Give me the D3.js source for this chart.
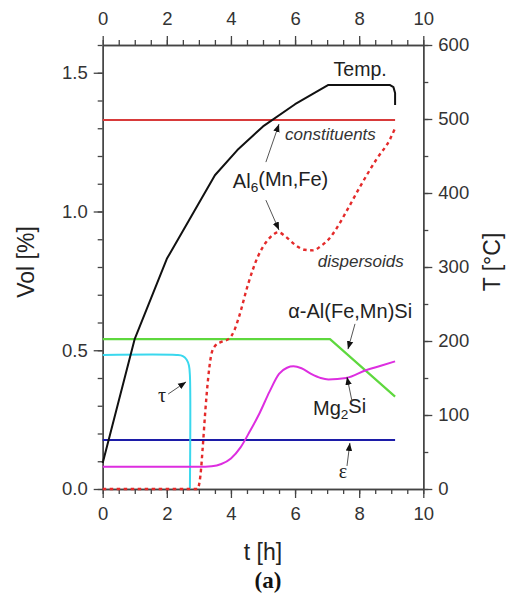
<!DOCTYPE html>
<html><head><meta charset="utf-8">
<script src="https://cdn.jsdelivr.net/npm/d3@7"></script>
<style>body{margin:0;background:#fff}svg{display:block}</style>
</head><body>
<svg id="c" width="510" height="602"></svg>
<script>
// ---- data ----
const timeTicks = [0, 2, 4, 6, 8, 10];
const volTicks = [0.0, 0.5, 1.0, 1.5];
const tempTicks = [0, 100, 200, 300, 400, 500, 600];

// temperature [°C] vs time [h]
const tempT = [0, 1.0, 2.0, 3.5, 4.2, 5.0, 6.0, 7.04, 8.95, 9.07, 9.12, 9.12];
const tempV = [35, 203, 311, 424, 458, 490, 520, 546, 546, 543, 535, 519];

// Al6(Mn,Fe) constituents
const constT = [0, 9.12];
const constV = [1.33, 1.33];

// Al6(Mn,Fe) dispersoids
const dispT = [0, 2.95, 3.05, 3.12, 3.2, 3.29, 3.38, 3.5, 3.7, 3.92, 4.1, 4.25, 4.54, 4.85, 5.1, 5.3, 5.48, 5.7, 6.0, 6.3, 6.57, 6.8, 7.05, 7.3, 7.6, 8.03, 8.55, 8.96, 9.12];
const dispV = [0, 0, 0.05, 0.15, 0.28, 0.40, 0.48, 0.515, 0.53, 0.54, 0.57, 0.62, 0.74, 0.84, 0.89, 0.915, 0.925, 0.91, 0.88, 0.862, 0.86, 0.875, 0.9, 0.94, 1.0, 1.09, 1.19, 1.26, 1.30];

// alpha-Al(Fe,Mn)Si
const alphaT = [0, 7.09, 9.12];
const alphaV = [0.54, 0.54, 0.333];

// tau
const tauT = [0, 2.3, 2.5, 2.62, 2.69, 2.72, 2.72];
const tauV = [0.483, 0.483, 0.479, 0.466, 0.445, 0.41, 0.0];

// Mg2Si
const mgT = [0, 3.0, 3.4, 3.7, 4.0, 4.3, 4.6, 4.9, 5.2, 5.5, 5.75, 5.95, 6.2, 6.5, 6.8, 7.04, 7.6, 8.23, 8.7, 9.12];
const mgV = [0.08, 0.08, 0.082, 0.09, 0.11, 0.15, 0.21, 0.275, 0.35, 0.415, 0.437, 0.442, 0.435, 0.415, 0.4, 0.395, 0.40, 0.429, 0.445, 0.46];

// epsilon
const epsT = [0, 9.12];
const epsV = [0.177, 0.177];

// ---- drawing ----
const svg = d3.select('#c');
const x = d3.scaleLinear().domain([0, 10]).range([102.7, 423.3]);
const yV = d3.scaleLinear().domain([0, 1.6]).range([489, 45]);
const yT = d3.scaleLinear().domain([0, 600]).range([489, 45]);
const FONT = '"Liberation Sans", Arial, Helvetica, sans-serif';

function styleAxis(g) {
  g.select('.domain').attr('stroke', '#444').attr('stroke-width', 1.4);
  g.selectAll('.tick line').attr('stroke', '#444').attr('stroke-width', 1.3);
  g.selectAll('.tick text').attr('fill', '#333').style('font-family', FONT).style('font-size', '18.5px');
  g.attr('font-family', null).attr('font-size', null);
}
const minorT = d3.range(0, 10.001, 0.5);
const minorV = d3.range(0, 1.6001, 0.1);
const minorTe = d3.range(0, 600.1, 50);

// minor axes
svg.append('g').attr('transform', 'translate(0,489)').call(d3.axisBottom(x).tickValues(minorT).tickSize(5).tickSizeOuter(0).tickFormat('')).call(styleAxis);
svg.append('g').attr('transform', 'translate(0,45)').call(d3.axisTop(x).tickValues(minorT).tickSize(5).tickSizeOuter(0).tickFormat('')).call(styleAxis);
svg.append('g').attr('transform', 'translate(102.7,0)').call(d3.axisLeft(yV).tickValues(minorV).tickSize(5).tickSizeOuter(0).tickFormat('')).call(styleAxis);
svg.append('g').attr('transform', 'translate(423.3,0)').call(d3.axisRight(yT).tickValues(minorTe).tickSize(5).tickSizeOuter(0).tickFormat('')).call(styleAxis);
// major axes
svg.append('g').attr('transform', 'translate(0,489)').call(d3.axisBottom(x).tickValues(timeTicks).tickSize(9).tickPadding(9).tickSizeOuter(0).tickFormat(d3.format('d'))).call(styleAxis);
svg.append('g').attr('transform', 'translate(0,45)').call(d3.axisTop(x).tickValues(timeTicks).tickSize(9).tickPadding(11).tickSizeOuter(0).tickFormat(d3.format('d'))).call(styleAxis);
svg.append('g').attr('transform', 'translate(102.7,0)').call(d3.axisLeft(yV).tickValues(volTicks).tickSize(9).tickPadding(6).tickSizeOuter(0).tickFormat(d3.format('.1f'))).call(styleAxis);
svg.append('g').attr('transform', 'translate(423.3,0)').call(d3.axisRight(yT).tickValues(tempTicks).tickSize(9).tickPadding(6).tickSizeOuter(0).tickFormat(d3.format('d'))).call(styleAxis);

// axis titles
svg.append('text').attr('transform', 'translate(34,262) rotate(-90)').attr('text-anchor', 'middle')
  .style('font-family', FONT).style('font-size', '23px').attr('fill', '#222').text('Vol [%]');
svg.append('text').attr('transform', 'translate(500,262) rotate(-90)').attr('text-anchor', 'middle')
  .style('font-family', FONT).style('font-size', '23px').attr('fill', '#222').text('T [°C]');
svg.append('text').attr('x', 263).attr('y', 560).attr('text-anchor', 'middle')
  .style('font-family', FONT).style('font-size', '23px').attr('fill', '#222').text('t [h]');
svg.append('text').attr('x', 268).attr('y', 588).attr('text-anchor', 'middle')
  .style('font-family', '"Liberation Serif", "Times New Roman", serif').style('font-size', '23px').style('font-weight', 'bold').attr('fill', '#111').text('(a)');

// series
function zip(a, b) { return a.map((v, i) => [v, b[i]]); }
function draw(ts, vs, ys, color, curve, width, dash) {
  const line = d3.line().x(d => x(d[0])).y(d => ys(d[1])).curve(curve);
  const p = svg.append('path').datum(zip(ts, vs)).attr('d', line).attr('fill', 'none')
    .attr('stroke', color).attr('stroke-width', width).attr('stroke-linejoin', 'round');
  if (dash) p.attr('stroke-dasharray', dash);
  return p;
}
draw(constT, constV, yV, '#d83a3a', d3.curveLinear, 2);
draw(epsT, epsV, yV, '#1c1ca8', d3.curveLinear, 2);
draw(alphaT, alphaV, yV, '#5ed83e', d3.curveLinear, 2.2);
draw(tauT, tauV, yV, '#3ad8ee', d3.curveCatmullRom, 2);
draw(mgT, mgV, yV, '#dd2ee0', d3.curveMonotoneX, 2);
draw(dispT, dispV, yV, '#e42a2a', d3.curveMonotoneX, 2.4, '3.5,3.5');
draw(tempT, tempV, yT, '#111', d3.curveLinear, 2);

// annotations
const defs = svg.append('defs');
defs.append('marker').attr('id', 'ah').attr('viewBox', '0 0 10 10').attr('refX', 10).attr('refY', 5)
  .attr('markerWidth', 8).attr('markerHeight', 8).attr('markerUnits', 'userSpaceOnUse').attr('orient', 'auto')
  .append('path').attr('d', 'M0,1 L10,5 L0,9 Z').attr('fill', '#111');
function arrow(t0, v0, t1, v1) {
  svg.append('line').attr('x1', x(t0)).attr('y1', yV(v0)).attr('x2', x(t1)).attr('y2', yV(v1))
    .attr('stroke', '#555').attr('stroke-width', 1).attr('marker-end', 'url(#ah)');
}
function label(t, v, opts = {}) {
  const el = svg.append('text').attr('x', x(t)).attr('y', yV(v)).attr('text-anchor', opts.anchor || 'start')
    .style('font-family', opts.family || FONT).style('font-size', (opts.size || 20) + 'px')
    .attr('fill', opts.fill || '#222');
  if (opts.italic) el.style('font-style', 'italic');
  return el;
}
function sub(el, base, s, rest) {
  el.append('tspan').text(base);
  el.append('tspan').attr('dy', '0.3em').style('font-size', '0.68em').text(s);
  el.append('tspan').attr('dy', '-0.3em').text(rest);
}

label(8.03, 1.488, { anchor: 'middle', size: 19.5 }).text('Temp.');
label(5.69, 1.258, { italic: true, size: 17, fill: '#333' }).text('constituents');
sub(label(4.06, 1.085, { size: 20 }), 'Al', '6', '(Mn,Fe)');
arrow(5.09, 1.178, 5.5, 1.315);
arrow(5.09, 1.041, 5.5, 0.933);
label(6.71, 0.80, { italic: true, size: 17, fill: '#333' }).text('dispersoids');
label(9.65, 0.616, { anchor: 'end', size: 20 }).text('α-Al(Fe,Mn)Si');
arrow(7.87, 0.595, 7.65, 0.504);
sub(label(6.56, 0.267, { size: 20 }), 'Mg', '2', 'Si');
arrow(7.78, 0.314, 7.62, 0.404);
label(7.49, 0.04, { anchor: 'middle', size: 20, family: '"Liberation Serif", "Times New Roman", serif' }).text('ε');
arrow(7.62, 0.083, 7.71, 0.166);
label(1.85, 0.313, { anchor: 'middle', size: 20, family: '"Liberation Serif", "Times New Roman", serif' }).text('τ');
arrow(2.04, 0.342, 2.6, 0.386);
</script>
</body></html>
